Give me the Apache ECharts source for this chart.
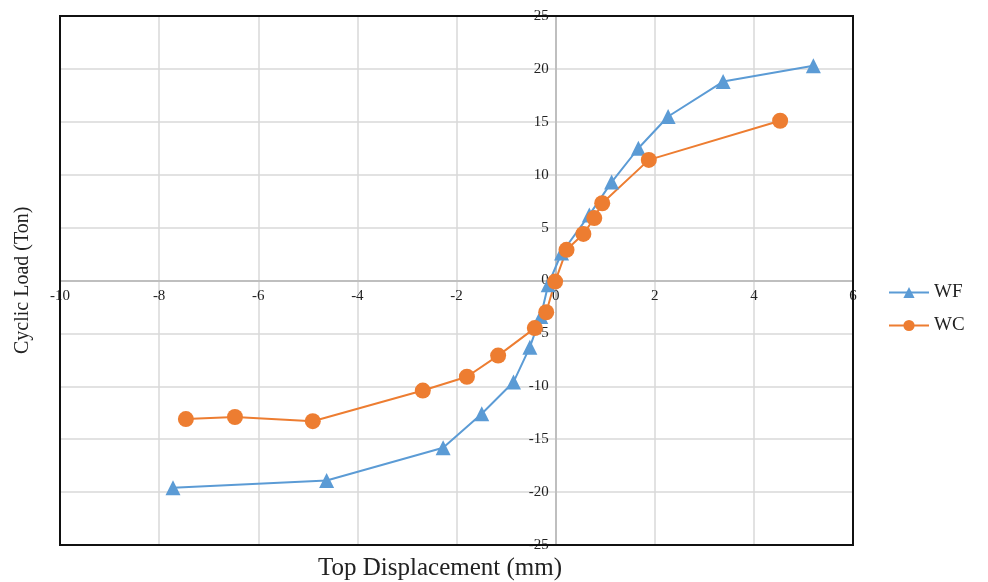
<!DOCTYPE html>
<html>
<head>
<meta charset="utf-8">
<script src="https://cdn.jsdelivr.net/npm/echarts@6/dist/echarts.min.js"></script>
<style>
  html, body { margin: 0; padding: 0; background: #fff; }
  #chart { width: 988px; height: 582px; }
</style>
</head>
<body>
<div id="chart"></div>
<script>
// data
const wfX = [-7.72, -4.62, -2.27, -1.49, -0.85, -0.52, -0.3, -0.15, 0.12, 0.68, 1.13, 1.67, 2.27, 3.38, 5.2];
const wfY = [-19.6, -18.9, -15.8, -12.6, -9.6, -6.3, -3.4, -0.4, 2.6, 6.2, 9.3, 12.5, 15.5, 18.8, 20.3];
const wcX = [-7.46, -6.47, -4.9, -2.68, -1.79, -1.16, -0.42, -0.19, -0.01, 0.22, 0.56, 0.78, 0.94, 1.88, 4.53];
const wcY = [-13.1, -12.9, -13.3, -10.4, -9.1, -7.1, -4.5, -3.0, -0.1, 2.9, 4.4, 5.9, 7.3, 11.4, 15.1];

const xTicks = { min: -10, max: 6, step: 2 };
const yTicks = { min: -25, max: 25, step: 5 };

const font = 'Liberation Serif';
const gridBox = { left: 60, right: 135, top: 16, bottom: 37 };

const chart = echarts.init(document.getElementById('chart'));

chart.setOption({
  animation: false,
  grid: Object.assign({ show: false }, gridBox),
  legend: {
    orient: 'vertical',
    left: 883,
    top: 278,
    itemWidth: 40,
    itemHeight: 14,
    itemGap: 14,
    textStyle: { fontFamily: font, fontSize: 19, color: '#222' },
    data: ['WF', 'WC']
  },
  xAxis: {
    type: 'value',
    position: 'bottom',
    min: xTicks.min, max: xTicks.max, interval: xTicks.step,
    axisLine: { onZero: false, lineStyle: { color: '#bfbfbf', width: 2 } },
    axisTick: { show: false },
    axisLabel: { fontFamily: font, fontSize: 15, color: '#222', margin: 8 },
    splitLine: { showMinLine: false, showMaxLine: false, lineStyle: { color: '#d9d9d9', width: 1.5 } }
  },
  yAxis: {
    type: 'value',
    position: 'left',
    min: yTicks.min, max: yTicks.max, interval: yTicks.step,
    axisLine: { onZero: false, lineStyle: { color: '#bfbfbf', width: 2 } },
    axisTick: { show: false },
    axisLabel: { fontFamily: font, fontSize: 15, color: '#222', margin: 7 },
    splitLine: { showMinLine: false, showMaxLine: false, lineStyle: { color: '#d9d9d9', width: 1.5 } }
  },
  graphic: [
    {
      type: 'rect', z: 100, silent: true,
      shape: { x: gridBox.left, y: gridBox.top, width: 988 - gridBox.left - gridBox.right, height: 582 - gridBox.top - gridBox.bottom },
      style: { fill: 'none', stroke: '#111', lineWidth: 2 }
    },
    {
      type: 'text', left: 318, top: 556,
      style: { text: 'Top Displacement (mm)', font: '25px "Liberation Serif"', fill: '#222' }
    },
    {
      type: 'text', x: 13, y: 354, rotation: Math.PI / 2,
      style: { text: 'Cyclic Load (Ton)', font: '20px "Liberation Serif"', fill: '#222' }
    }
  ],
  series: [
    {
      name: 'WF',
      type: 'line',
      data: wfX.map((x, i) => [x, wfY[i]]),
      symbol: 'triangle',
      symbolSize: 15,
      lineStyle: { color: '#5B9BD5', width: 2 },
      itemStyle: { color: '#5B9BD5' }
    },
    {
      name: 'WC',
      type: 'line',
      data: wcX.map((x, i) => [x, wcY[i]]),
      symbol: 'circle',
      symbolSize: 16,
      lineStyle: { color: '#ED7D31', width: 2 },
      itemStyle: { color: '#ED7D31' }
    }
  ]
});

// move both axes onto the zero lines
const zero = chart.convertToPixel({ gridIndex: 0 }, [0, 0]);
const bottomEdge = 582 - gridBox.bottom;
chart.setOption({
  xAxis: { offset: -(bottomEdge - zero[1]) },
  yAxis: { offset: -(zero[0] - gridBox.left) }
});
</script>
</body>
</html>
